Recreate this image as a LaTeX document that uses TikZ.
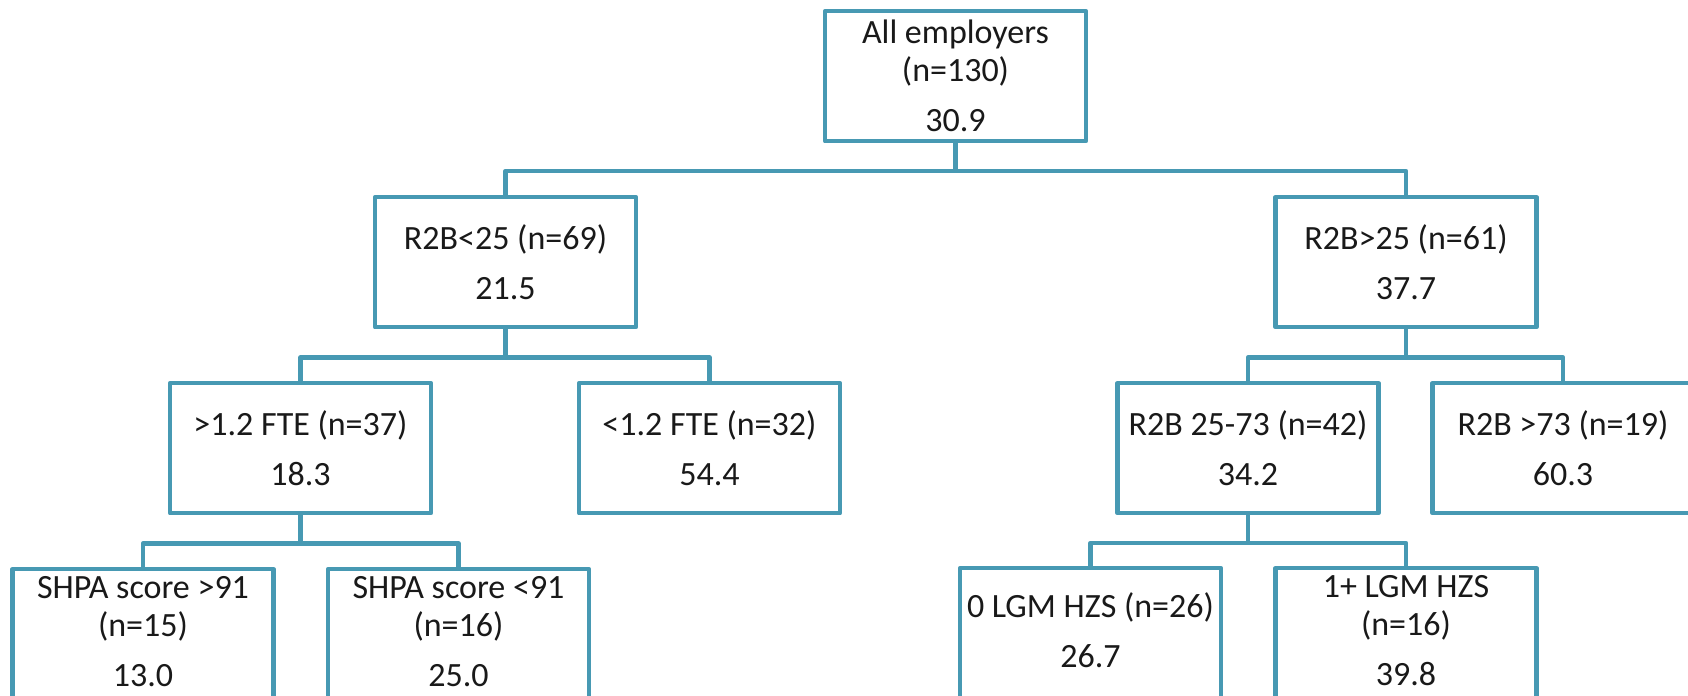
\documentclass[tikz,border=0pt]{standalone}
\usepackage{fontspec}
\setmainfont{Carlito}
\definecolor{treeline}{HTML}{4799B3}
\begin{document}
\begin{tikzpicture}[x=0.5pt,y=-0.5pt,
  box/.style={draw=treeline, line width=2.2pt, line join=round, fill=white,
    minimum width=130.5pt, minimum height=65pt, anchor=north, align=center,
    inner sep=0pt, font=\fontsize{17}{19}\selectfont, text=black!90},
  leafbox/.style={box, minimum height=67pt, text depth=5pt},
  link/.style={draw=treeline, line width=2.2pt, line join=round}]
\useasboundingbox (0,0) rectangle (1688,696);

% level 0
\node[box] (root) at (955.5,9) {All employers\\(n=130)\\[6pt]30.9};

% level 1
\node[box] (lo) at (505.5,195) {R2B<25 (n=69)\\[6pt]21.5};
\node[box] (hi) at (1406,195) {R2B>25 (n=61)\\[6pt]37.7};

% level 2
\node[box] (lofte) at (300.5,381) {>1.2 FTE (n=37)\\[6pt]18.3};
\node[box] (loless) at (709.5,381) {<1.2 FTE (n=32)\\[6pt]54.4};
\node[box] (himid) at (1248,381) {R2B 25-73 (n=42)\\[6pt]34.2};
\node[box] (hitop) at (1563,381) {R2B >73 (n=19)\\[6pt]60.3};

% level 3
\node[leafbox] (shpahi) at (143,567) {SHPA score >91\\(n=15)\\[6pt]13.0};
\node[leafbox] (shpalo) at (458.5,567) {SHPA score <91\\(n=16)\\[6pt]25.0};
\node[leafbox] (lgmzero) at (1090.5,566) {0 LGM HZS (n=26)\\[6pt]26.7};
\node[leafbox] (lgmone) at (1406,566) {1+ LGM HZS\\(n=16)\\[6pt]39.8};

% connectors
\draw[link] (root.south) -- ++(0,27.5) -| (lo.north);
\draw[link] (root.south) -- ++(0,27.5) -| (hi.north);
\draw[link] (lo.south) -- ++(0,28) -| (lofte.north);
\draw[link] (lo.south) -- ++(0,28) -| (loless.north);
\draw[link] (hi.south) -- ++(0,28) -| (himid.north);
\draw[link] (hi.south) -- ++(0,28) -| (hitop.north);
\draw[link] (lofte.south) -- ++(0,28) -| (shpahi.north);
\draw[link] (lofte.south) -- ++(0,28) -| (shpalo.north);
\draw[link] (himid.south) -- ++(0,27.5) -| (lgmzero.north);
\draw[link] (himid.south) -- ++(0,27.5) -| (lgmone.north);
\end{tikzpicture}
\end{document}
